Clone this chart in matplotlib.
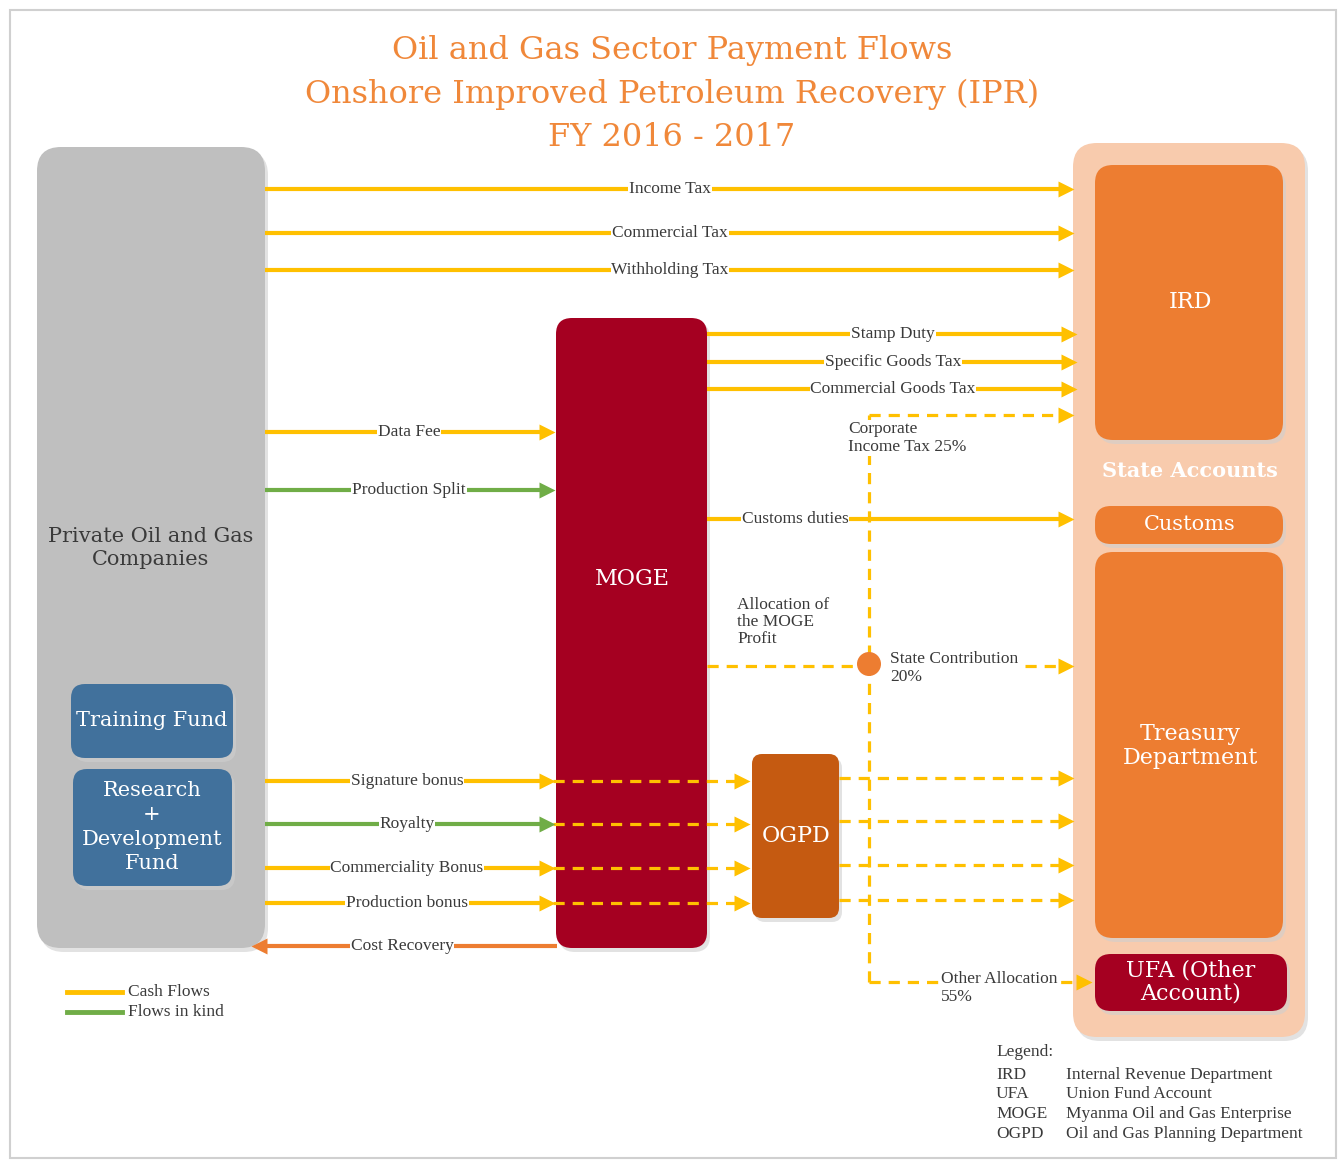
import matplotlib
matplotlib.use('Agg')
import matplotlib.pyplot as plt
from matplotlib.patches import FancyBboxPatch, Rectangle, Circle

# colours
YELLOW = '#FFC000'
GREEN = '#70AD47'
ORANGE = '#ED7D31'
TXT = '#3A3A3A'

# flows from the companies straight to IRD
direct_labels = ['Income Tax', 'Commercial Tax', 'Withholding Tax']
direct_y = [189, 233, 270]

# flows from MOGE to IRD
moge_tax_labels = ['Stamp Duty', 'Specific Goods Tax', 'Commercial Goods Tax']
moge_tax_y = [334, 362, 389]

# companies -> MOGE
to_moge_labels = ['Data Fee', 'Production Split']
to_moge_y = [432, 490]
to_moge_kind = ['cash', 'kind']

# companies -> MOGE -> OGPD -> Treasury
bonus_labels = ['Signature bonus', 'Royalty', 'Commerciality Bonus', 'Production bonus']
bonus_y = [781, 824, 868, 903]
bonus_kind = ['cash', 'kind', 'cash', 'cash']

legend_abbr = ['IRD', 'UFA', 'MOGE', 'OGPD']
legend_full = ['Internal Revenue Department', 'Union Fund Account',
               'Myanma Oil and Gas Enterprise', 'Oil and Gas Planning Department']

title_lines = ['Oil and Gas Sector Payment Flows',
               'Onshore Improved Petroleum Recovery (IPR)',
               'FY 2016 - 2017']

plt.rcParams['font.family'] = ['DejaVu Serif']
SMALL = dict(fontsize=12.5, color=TXT, family=['Liberation Serif', 'DejaVu Serif'])

fig = plt.figure(figsize=(13.44, 11.62), dpi=100)
ax = fig.add_axes([0, 0, 1, 1])
ax.set_xlim(0, 1344)
ax.set_ylim(1162, 0)
ax.axis('off')

# outer frame
ax.add_patch(Rectangle((10, 10), 1326, 1148, fill=False, ec='#D0D0D0', lw=1.5))


def box(x0, y0, x1, y1, color, r=18, shadow=True, z=2):
    if shadow:
        ax.add_patch(FancyBboxPatch((x0 + 3, y0 + 4), x1 - x0, y1 - y0,
                                    boxstyle='round,pad=0,rounding_size=%d' % r,
                                    fc='#CFCFCF', ec='none', alpha=0.6, zorder=z - 0.5))
    ax.add_patch(FancyBboxPatch((x0, y0), x1 - x0, y1 - y0,
                                boxstyle='round,pad=0,rounding_size=%d' % r,
                                fc=color, ec='none', zorder=z))


def arrow(x0, x1, y, color, dashed=False, label=None, lx=None, head=True, lw=3):
    ls = (0, (3.5, 2.5)) if dashed else '-'
    w = 2.3 if dashed else lw
    end = x1 - 8 if x1 > x0 else x1 + 8
    ax.plot([x0, end], [y, y], color=color, lw=w, ls=ls, zorder=3, solid_capstyle='butt')
    if head:
        ax.plot([x1 - 6 if x1 > x0 else x1 + 6], [y], marker='>' if x1 > x0 else '<',
                color=color, ms=11, mec='none', zorder=4)
    if label:
        ax.text(lx, y, label, ha='center', va='center', zorder=5,
                bbox=dict(fc='white', ec='none', pad=0.5), **SMALL)


def color_of(kind):
    return YELLOW if kind == 'cash' else GREEN


# title
for i, t in enumerate(title_lines):
    ax.text(672, 50 + i * 44, t, ha='center', va='center', fontsize=23, color='#F0883A')

# companies box
box(37, 147, 265, 948, '#BFBFBF', r=24)
ax.text(151, 548, 'Private Oil and Gas\nCompanies', ha='center', va='center',
        fontsize=15, color=TXT, zorder=5, linespacing=1.25)
box(71, 684, 233, 758, '#41719C', r=14, z=3)
ax.text(152, 721, 'Training Fund', ha='center', va='center', fontsize=15,
        color='white', zorder=5)
box(73, 769, 232, 886, '#41719C', r=14, z=3)
ax.text(152, 827, 'Research\n+\nDevelopment\nFund', ha='center', va='center',
        fontsize=15, color='white', zorder=5, linespacing=1.35)

# state accounts
box(1073, 143, 1305, 1037, '#F8CBAD', r=24)
box(1095, 165, 1283, 440, ORANGE, r=18, z=3)
ax.text(1190, 302, 'IRD', ha='center', va='center', fontsize=16, color='white', zorder=5)
ax.text(1190, 471, 'State Accounts', ha='center', va='center', fontsize=15,
        color='white', fontweight='bold', zorder=5)
box(1095, 506, 1283, 544, ORANGE, r=16, z=3)
ax.text(1190, 525, 'Customs', ha='center', va='center', fontsize=15, color='white', zorder=5)
box(1095, 552, 1283, 938, ORANGE, r=18, z=3)
ax.text(1190, 746, 'Treasury\nDepartment', ha='center', va='center', fontsize=16,
        color='white', zorder=5, linespacing=1.15)
box(1095, 954, 1287, 1011, '#A50021', r=16, z=3)
ax.text(1191, 982, 'UFA (Other\nAccount)', ha='center', va='center', fontsize=16,
        color='white', zorder=5, linespacing=1.1)

# MOGE and OGPD
box(556, 318, 707, 948, '#A50021', r=16)
ax.text(632, 579, 'MOGE', ha='center', va='center', fontsize=16, color='white', zorder=5)
box(752, 754, 839, 918, '#C55A11', r=10)
ax.text(796, 836, 'OGPD', ha='center', va='center', fontsize=16, color='white', zorder=5)

# direct taxes
for lab, y in zip(direct_labels, direct_y):
    arrow(265, 1072, y, YELLOW, label=lab, lx=670)

# MOGE taxes
for lab, y in zip(moge_tax_labels, moge_tax_y):
    arrow(707, 1075, y, YELLOW, label=lab, lx=893)

# companies to MOGE
for lab, y, k in zip(to_moge_labels, to_moge_y, to_moge_kind):
    arrow(265, 553, y, color_of(k), label=lab, lx=409)

# bonuses through MOGE and OGPD
for lab, y, k in zip(bonus_labels, bonus_y, bonus_kind):
    arrow(265, 553, y, color_of(k), label=lab, lx=407)
    arrow(553, 748, y, YELLOW, dashed=True)
    arrow(839, 1072, y - 3, YELLOW, dashed=True)

# cost recovery back to companies
arrow(557, 253, 946, ORANGE, label='Cost Recovery', lx=402)

# customs duties
arrow(707, 1072, 519, YELLOW, label='Customs duties', lx=795)

# allocation of MOGE profit
vx = 869
ax.plot([vx, vx], [415, 982], color=YELLOW, lw=2.3, ls=(0, (3.5, 2.5)), zorder=2.5)
arrow(vx, 1072, 415, YELLOW, dashed=True)
ax.text(848, 438, 'Corporate\nIncome Tax 25%', ha='left', va='center', zorder=5,
        linespacing=1.15, bbox=dict(fc='white', ec='none', pad=0.5), **SMALL)
ax.text(737, 622, 'Allocation of\nthe MOGE\nProfit', ha='left', va='center', zorder=5,
        linespacing=1.1, **SMALL)
arrow(707, vx, 666, YELLOW, dashed=True, head=False)
ax.add_patch(Circle((vx, 664), 12, fc=ORANGE, ec='none', zorder=5))
arrow(1025, 1072, 666, YELLOW, dashed=True)
ax.text(890, 668, 'State Contribution\n20%', ha='left', va='center', zorder=5,
        linespacing=1.15, **SMALL)
arrow(vx, 1090, 982, YELLOW, dashed=True)
ax.text(941, 988, 'Other Allocation\n55%', ha='left', va='center', zorder=5,
        linespacing=1.15, bbox=dict(fc='white', ec='none', pad=0.5), **SMALL)

# flow legend
ax.plot([67, 122], [992, 992], color=YELLOW, lw=3.5)
ax.plot([67, 122], [1012, 1012], color=GREEN, lw=3.5)
ax.text(128, 992, 'Cash Flows', ha='left', va='center', **SMALL)
ax.text(128, 1012, 'Flows in kind', ha='left', va='center', **SMALL)

# abbreviation legend
ax.text(996, 1052, 'Legend:', ha='left', va='center', **SMALL)
for i, (a, f) in enumerate(zip(legend_abbr, legend_full)):
    yy = 1075 + i * 19.5
    ax.text(996, yy, a, ha='left', va='center', **SMALL)
    ax.text(1066, yy, f, ha='left', va='center', **SMALL)

fig.savefig('out.png', dpi=100)
